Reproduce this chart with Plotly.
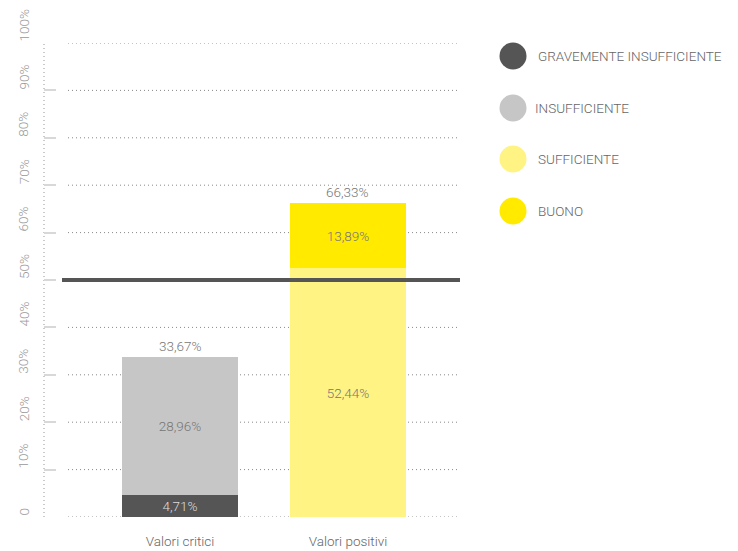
import plotly.graph_objects as go

categories = ["Valori critici", "Valori positivi"]
series_names = ["GRAVEMENTE INSUFFICIENTE", "INSUFFICIENTE", "SUFFICIENTE", "BUONO"]
gravemente = [4.71, 0]
insufficiente = [28.96, 0]
sufficiente = [0, 52.44]
buono = [0, 13.89]
totals = [33.67, 66.33]
threshold = 50
y_ticks = [0, 10, 20, 30, 40, 50, 60, 70, 80, 90, 100]
y_tick_labels = ["0", "10%", "20%", "30%", "40%", "50%", "60%", "70%", "80%", "90%", "100%"]

colors = ["#555555", "#c6c6c6", "#fff383", "#ffea00"]
text_colors = ["#dddddd", "#777777", "#777777", "#777777"]
series_values = [gravemente, insufficiente, sufficiente, buono]

W, H = 738, 551
L, R, T, B = 44, 278, 43, 34
PW, PH = W - L - R, H - T - B
FONT = "Roboto"


def px_x(p):
    return (p - L) / PW


def px_y(p):
    return (H - B - p) / PH


def fmt(v):
    return f"{v:.2f}".replace(".", ",") + "%"


fig = go.Figure()
for name, vals, col, tc in zip(series_names, series_values, colors, text_colors):
    fig.add_trace(go.Bar(
        x=categories, y=vals, name=name, marker=dict(color=col, line=dict(width=0)),
        text=[fmt(v) if v > 0 else "" for v in vals],
        textposition="inside", insidetextanchor="middle",
        textfont=dict(family=FONT, size=13.5, color=tc, weight=300),
        width=0.69, showlegend=False, hoverinfo="skip",
    ))

annotations = []
for c, t in zip(categories, totals):
    annotations.append(dict(x=c, y=t, text=fmt(t), showarrow=False, yanchor="bottom",
                            yshift=1, font=dict(family=FONT, size=13.5, color="#777777", weight=300)))

# y tick labels: rotated, starting at the tick
for yv, lab in zip(y_ticks, y_tick_labels):
    annotations.append(dict(xref="paper", yref="y", x=px_x(23.5), y=yv, text=lab,
                            textangle=-90, showarrow=False, xanchor="center", yanchor="bottom",
                            borderpad=0,
                            font=dict(family=FONT, size=13.5, color="#999999", weight=300)))

shapes = []
# y axis dotted line
shapes.append(dict(type="line", xref="paper", yref="y", x0=0, x1=0, y0=0, y1=100,
                   line=dict(color="#bbbbbb", width=1.5, dash="1px,3px"), layer="below"))
# gridlines
for yv in y_ticks:
    shapes.append(dict(type="line", xref="paper", yref="y", x0=px_x(68), x1=1, y0=yv, y1=yv,
                       line=dict(color="#888888", width=1, dash="1px,3px"), layer="below"))
# threshold line
shapes.append(dict(type="line", xref="paper", yref="y", x0=px_x(62), x1=1, y0=threshold, y1=threshold,
                   line=dict(color="#555555", width=4), layer="above"))

# custom legend
leg_y = [56, 108, 159, 211]
leg_tx = [536, 533, 536, 536]
for name, col, ly, tx in zip(series_names, colors, leg_y, leg_tx):
    shapes.append(dict(type="circle", xref="paper", yref="paper",
                       xsizemode="pixel", ysizemode="pixel",
                       xanchor=px_x(513), yanchor=px_y(ly),
                       x0=-13.5, x1=13.5, y0=-13.5, y1=13.5,
                       fillcolor=col, line=dict(width=0)))
    annotations.append(dict(xref="paper", yref="paper", x=px_x(tx), y=px_y(ly), text=name,
                            showarrow=False, xanchor="left", yanchor="middle",
                            font=dict(family=FONT, size=13.5, color="#666666", weight=300)))

fig.update_layout(
    width=W, height=H, barmode="stack",
    margin=dict(l=L, r=R, t=T, b=B),
    paper_bgcolor="white", plot_bgcolor="white",
    showlegend=False,
    shapes=shapes, annotations=annotations,
    xaxis=dict(range=[-0.81, 1.667], showgrid=False, zeroline=False, showline=False,
               automargin=False,
               ticks="", tickfont=dict(family=FONT, size=13.5, color="#666666", weight=300),
               ticklabelstandoff=14),
    yaxis=dict(range=[0, 100], tickvals=y_ticks, showticklabels=False,
               showgrid=False, zeroline=False, showline=False, automargin=False,
               ticks="inside", ticklen=12, tickwidth=2, tickcolor="#d8d8d8"),
)

post = (
    "document.body.style.margin='0';"
    "document.documentElement.style.overflow='hidden';"
)
fig.write_html("out.html", post_script=post, config={"displayModeBar": False})
